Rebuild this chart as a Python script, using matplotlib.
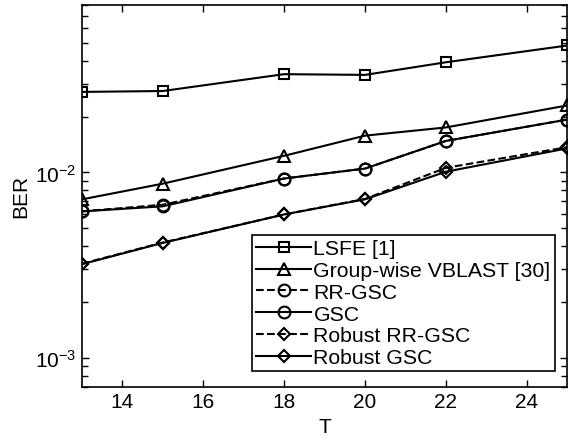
import matplotlib
matplotlib.use("Agg")
import matplotlib.pyplot as plt
from matplotlib.ticker import LogLocator, NullFormatter

plt.rcParams["font.family"] = ["Liberation Sans", "DejaVu Sans"]
plt.rcParams["mathtext.fontset"] = "custom"
plt.rcParams["mathtext.rm"] = "Liberation Sans"
plt.rcParams["mathtext.it"] = "Liberation Sans"

T = [13, 15, 18, 20, 22, 25]
lsfe = [0.0272, 0.0275, 0.0339, 0.0336, 0.0393, 0.0484]
vblast = [0.00716, 0.00870, 0.0123, 0.0158, 0.0175, 0.0230]
rr_gsc = [0.00617, 0.00670, 0.00928, 0.0105, 0.0148, 0.0193]
gsc = [0.00617, 0.00657, 0.00928, 0.0105, 0.0148, 0.0193]
robust_rr_gsc = [0.00322, 0.00419, 0.00594, 0.00720, 0.0106, 0.0137]
robust_gsc = [0.00320, 0.00417, 0.00594, 0.00717, 0.0101, 0.0135]

series = [
    ("LSFE [1]", lsfe, "s", "-", 7.5),
    ("Group-wise VBLAST [30]", vblast, "^", "-", 9),
    ("RR-GSC", rr_gsc, "o", "--", 8.5),
    ("GSC", gsc, "o", "-", 8.5),
    ("Robust RR-GSC", robust_rr_gsc, "D", "--", 6.5),
    ("Robust GSC", robust_gsc, "D", "-", 6.5),
]

fig = plt.figure(figsize=(5.68, 4.39), dpi=100)
ax = fig.add_axes([0.1438, 0.1169, 0.8552, 0.8694])

for label, vals, marker, ls, ms in series:
    ax.plot(T, vals, color="black", linestyle=ls, linewidth=1.5,
            marker=marker, markersize=ms, markerfacecolor="none",
            markeredgecolor="black", markeredgewidth=1.5, label=label)

ax.set_yscale("log")
ax.set_xlim(13, 25)
ax.set_ylim(7e-4, 8e-2)
ax.set_xticks([14, 16, 18, 20, 22, 24])
ax.yaxis.set_major_locator(LogLocator(base=10, numticks=10))
ax.yaxis.set_minor_locator(LogLocator(base=10, subs=range(2, 10), numticks=10))
ax.yaxis.set_minor_formatter(NullFormatter())
ax.set_yticks([1e-3, 1e-2])

ax.tick_params(which="both", direction="in", top=True, right=True,
               labelsize=15, width=1.0)
ax.tick_params(which="major", length=5)
ax.tick_params(which="minor", length=4)
for sp in ax.spines.values():
    sp.set_linewidth(1.2)

ax.set_xlabel("T", fontsize=15, labelpad=5)
ax.set_ylabel("BER", fontsize=15, labelpad=4)

leg = ax.legend(loc="lower right", bbox_to_anchor=(0.974, 0.04),
                borderaxespad=0, fontsize=15.3, fancybox=False, framealpha=1,
                edgecolor="black", handlelength=2.6, handletextpad=0.1,
                labelspacing=0.13, borderpad=0.2)
leg.get_frame().set_linewidth(1.2)

fig.savefig("out.png", dpi=100)
